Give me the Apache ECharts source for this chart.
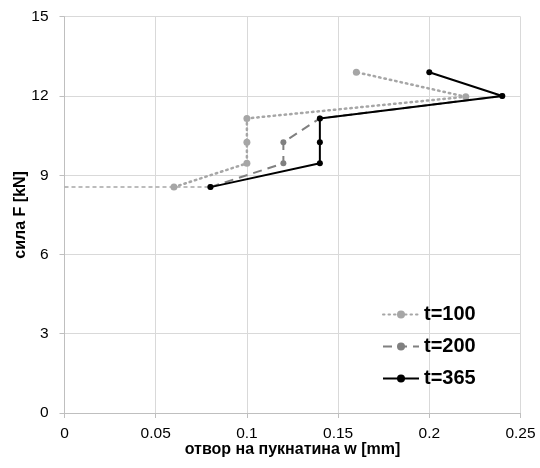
<!DOCTYPE html>
<html><head><meta charset="utf-8">
<script src="https://cdn.jsdelivr.net/npm/echarts@6/dist/echarts.min.js"></script>
<style>html,body{margin:0;padding:0;background:#fff}#c{width:540px;height:468px}</style>
</head><body><div id="c"></div>
<script>
const xTicks = [0, 0.05, 0.1, 0.15, 0.2, 0.25];
const yTicks = [0, 3, 6, 9, 12, 15];
const t100 = [[0.06, 8.55], [0.1, 9.45], [0.1, 10.25], [0.1, 11.15], [0.22, 11.97], [0.16, 12.9]];
const t200 = [[0.08, 8.55], [0.12, 9.45], [0.12, 10.25], [0.14, 11.15], [0.24, 12.0]];
const t365 = [[0.08, 8.55], [0.14, 9.45], [0.14, 10.25], [0.14, 11.15], [0.24, 12.0], [0.2, 12.9]];
const baseLine = [[0, 8.55], [0.08, 8.55]];
const names = ['t=100', 't=200', 't=365'];

const chart = echarts.init(document.getElementById('c'), null, {renderer: 'canvas'});
const font = 'Liberation Sans, Arial, sans-serif';
chart.setOption({
  animation: false,
  grid: {left: 64.5, right: 19.5, top: 16.7, bottom: 55, containLabel: false, outerBoundsMode: 'none'},
  xAxis: {
    type: 'value', min: xTicks[0], max: xTicks[xTicks.length - 1], interval: 0.05,
    name: 'отвор на пукнатина w [mm]', nameLocation: 'middle', nameGap: 29, nameMoveOverlap: false,
    nameTextStyle: {fontFamily: font, fontWeight: 'bold', fontSize: 16, color: '#000'},
    axisLine: {show: true, lineStyle: {color: '#bfbfbf'}},
    axisTick: {show: true, length: 5, lineStyle: {color: '#bfbfbf'}},
    axisLabel: {fontFamily: font, fontSize: 15.5, color: '#000', margin: 13},
    splitLine: {show: true, lineStyle: {color: '#d9d9d9'}}
  },
  yAxis: {
    type: 'value', min: yTicks[0], max: yTicks[yTicks.length - 1], interval: 3,
    name: 'сила F [kN]', nameLocation: 'middle', nameGap: 36, nameMoveOverlap: false,
    nameTextStyle: {fontFamily: font, fontWeight: 'bold', fontSize: 16, color: '#000'},
    axisLine: {show: true, lineStyle: {color: '#bfbfbf'}},
    axisTick: {show: true, length: 5, lineStyle: {color: '#bfbfbf'}},
    axisLabel: {fontFamily: font, fontSize: 15.5, color: '#000', margin: 16},
    splitLine: {show: true, lineStyle: {color: '#d9d9d9'}}
  },
  legend: {
    data: names, orient: 'vertical', left: 377, top: 299.5, itemGap: 12,
    itemWidth: 36, itemHeight: 10,
    textStyle: {fontFamily: font, fontWeight: 'bold', fontSize: 20, color: '#000'}
  },
  series: [
    {name: 'base', type: 'line', data: baseLine, showSymbol: false, symbol: 'none',
      lineStyle: {color: '#a6a6a6', width: 1.5, type: [4, 3]}, z: 1},
    {name: names[0], type: 'line', data: t100, symbol: 'circle', symbolSize: 7,
      itemStyle: {color: '#a6a6a6'},
      lineStyle: {color: '#a6a6a6', width: 2.5, type: [1.5, 4], cap: 'round'}, z: 2},
    {name: names[1], type: 'line', data: t200, symbol: 'circle', symbolSize: 6,
      itemStyle: {color: '#808080'},
      lineStyle: {color: '#808080', width: 2, type: [9, 6]}, z: 3},
    {name: names[2], type: 'line', data: t365, symbol: 'circle', symbolSize: 6,
      itemStyle: {color: '#000'},
      lineStyle: {color: '#000', width: 2}, z: 4}
  ]
});
</script></body></html>
